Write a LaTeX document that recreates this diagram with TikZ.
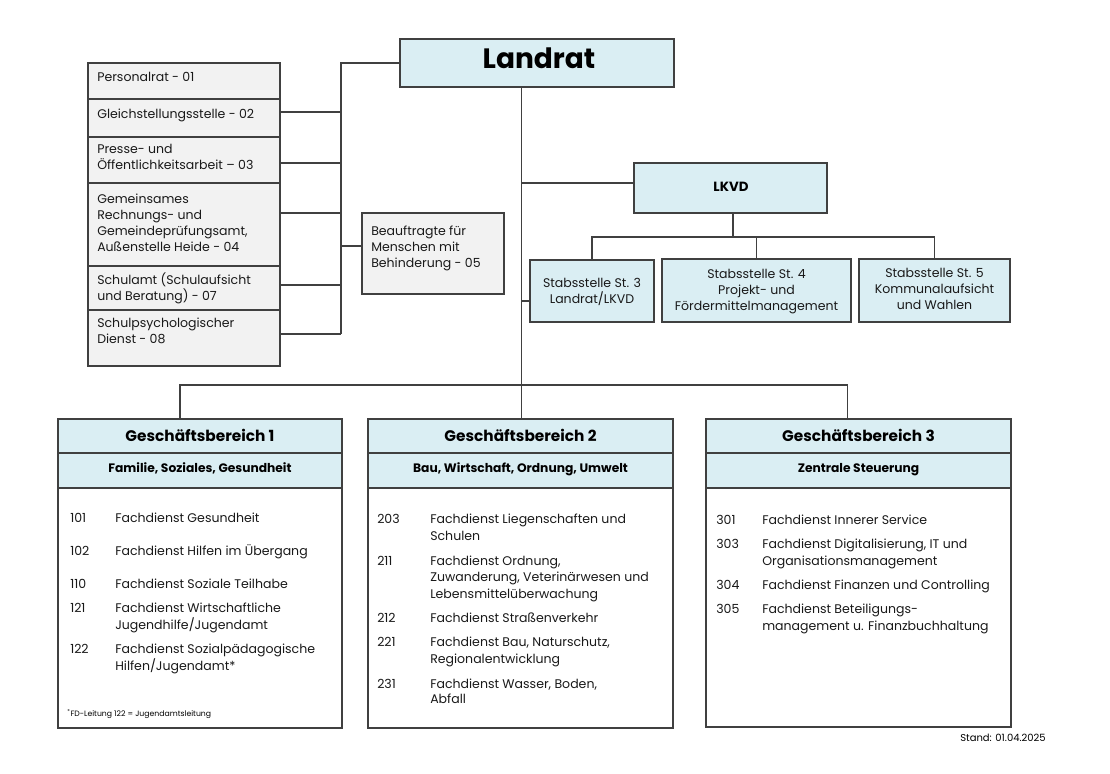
\documentclass[tikz,border=0pt]{standalone}
\usepackage{fontspec}
\setmainfont{Poppins}
\usetikzlibrary{calc}
\definecolor{lblue}{HTML}{DAEEF3}
\definecolor{lgray}{HTML}{F2F2F2}
\definecolor{bord}{HTML}{404040}
\newcommand\bx[6]{\node[#6, minimum width={(#4-#2)*0.75pt}, minimum height={(#5-#3)*0.75pt}] (#1) at ({(#2+#4)/2},{(#3+#5)/2}) {};}
\begin{document}
\begin{tikzpicture}[x=0.75pt,y=-0.75pt,
  box/.style={draw=bord, line width=1.0pt, inner sep=0pt, outer sep=0pt},
  bluebox/.style={box, fill=lblue},
  graybox/.style={box, fill=lgray},
  whitebox/.style={box, fill=white},
  conn/.style={draw=bord, line width=0.8pt},
  t/.style={anchor=west, inner sep=0pt, text height=6.5pt, text depth=1.5pt, font=\fontsize{9.4}{11}\selectfont, text=black!90},
  tc/.style={t, anchor=center},
  hd/.style={anchor=center, inner sep=0pt, text height=8pt, text depth=2pt, font=\fontsize{11.5}{13}\selectfont\bfseries},
  sh/.style={anchor=center, inner sep=0pt, text height=6.5pt, text depth=1.5pt, font=\fontsize{9.2}{11}\selectfont\bfseries},
]
\useasboundingbox[fill=white] (0,0) rectangle (1110,774);

% ---------- Landrat ----------
\node[bluebox, minimum width={(674-400)*0.75pt}, minimum height={(87-39)*0.75pt}] (lr) at (537,63) {};
\node[anchor=center, inner sep=0pt, text height=15pt, text depth=0pt, font=\fontsize{21}{23}\selectfont\bfseries] (lrt) at (539,58.5) {Landrat};

% ---------- left staff column ----------
\bx{pr}{88}{63}{280}{99}{graybox}
\bx{gl}{88}{99}{280}{137}{graybox}
\bx{pe}{88}{137}{280}{183}{graybox}
\bx{ge}{88}{183}{280}{266}{graybox}
\bx{sa}{88}{266}{280}{310}{graybox}
\bx{sp}{88}{310}{280}{366}{graybox}
\bx{bf}{362}{213}{504}{294}{graybox}

\node[t] (prt) at (97,78) {Personalrat - 01};
\node[t] (glt) at (97,115) {Gleichstellungsstelle - 02};
\node[t] (pet1) at (97,150) {Presse- und};
\node[t] (pet2) at (97,166) {Öffentlichkeitsarbeit – 03};
\node[t] (get1) at (97,200) {Gemeinsames};
\node[t] (get2) at (97,216.5) {Rechnungs- und};
\node[t] (get3) at (97,232.5) {Gemeindeprüfungsamt,};
\node[t] (get4) at (97,248.5) {Außenstelle Heide - 04};
\node[t] (sat1) at (97,281) {Schulamt (Schulaufsicht};
\node[t] (sat2) at (97,297) {und Beratung) - 07};
\node[t] (spt1) at (97,324) {Schulpsychologischer};
\node[t] (spt2) at (97,340) {Dienst - 08};
\node[t] (bft1) at (371,232) {Beauftragte für};
\node[t] (bft2) at (371,248) {Menschen mit};
\node[t] (bft3) at (371,264) {Behinderung - 05};

% bracket
\coordinate (brt) at (341,63);
\coordinate (brb) at (341,334);
\draw[conn] (lr.west |- brt) -- (brt) -- (brb);
\coordinate (sgl) at (341,112);
\coordinate (spe) at (341,163);
\coordinate (sge) at (341,213);
\coordinate (ssa) at (341,285);
\coordinate (sbf) at (341,246);
\draw[conn] (gl.east |- sgl) -- (sgl);
\draw[conn] (pe.east |- spe) -- (spe);
\draw[conn] (ge.east |- sge) -- (sge);
\draw[conn] (sa.east |- ssa) -- (ssa);
\draw[conn] (sp.east |- brb) -- (brb);
\draw[conn] (sbf) -- (bf.west |- sbf);

% ---------- LKVD ----------
\bx{lk}{634}{163}{827}{213}{bluebox}
\node[sh, font=\fontsize{10}{12}\selectfont\bfseries] (lkt) at (731,188) {LKVD};
\bx{st3}{530}{260}{654}{322}{bluebox}
\bx{st4}{662}{259}{851}{322}{bluebox}
\bx{st5}{859}{259}{1010}{322}{bluebox}
\node[tc] (st3a) at (592,284) {Stabsstelle St. 3};
\node[tc] (st3b) at (592,300) {Landrat/LKVD};
\node[tc] (st4a) at (756.5,275) {Stabsstelle St. 4};
\node[tc] (st4b) at (756.5,291) {Projekt- und};
\node[tc] (st4c) at (756.5,307) {Fördermittelmanagement};
\node[tc] (st5a) at (934.5,274) {Stabsstelle St. 5};
\node[tc] (st5b) at (934.5,290) {Kommunalaufsicht};
\node[tc] (st5c) at (934.5,306) {und Wahlen};

\coordinate (j) at (521.5,385);
\coordinate (jl) at (521.5,183);
\coordinate (js) at (521.5,301);
\coordinate (sb) at (733,237);
\draw[conn] (jl) -- (lk.west |- jl);
\draw[conn] (js) -- (st3.west |- js);
\draw[conn] (lk.south -| sb) -- (sb);
\draw[conn] (st3.north) -- (st3.north |- sb) -- (st5.north |- sb) -- (st5.north);
\draw[conn] (st4.north) -- (st4.north |- sb);

% ---------- Geschaeftsbereiche ----------
\bx{gb1b}{58}{488}{342}{728}{whitebox}
\bx{gb1h}{58}{419}{342}{453}{bluebox}
\bx{gb1s}{58}{453}{342}{488}{bluebox}
\bx{gb2b}{368}{488}{673}{728}{whitebox}
\bx{gb2h}{368}{419}{673}{453}{bluebox}
\bx{gb2s}{368}{453}{673}{488}{bluebox}
\bx{gb3b}{706}{488}{1011}{727}{whitebox}
\bx{gb3h}{706}{419}{1011}{453}{bluebox}
\bx{gb3s}{706}{453}{1011}{488}{bluebox}

\node[hd] (gb1ht) at (200,437) {Geschäftsbereich 1};
\node[sh] (gb1st) at (200,469.5) {Familie, Soziales, Gesundheit};
\node[hd] (gb2ht) at (520.5,437) {Geschäftsbereich 2};
\node[sh] (gb2st) at (520.5,469.5) {Bau, Wirtschaft, Ordnung, Umwelt};
\node[hd] (gb3ht) at (858.5,437) {Geschäftsbereich 3};
\node[sh] (gb3st) at (858.5,469.5) {Zentrale Steuerung};

\coordinate (c1) at (180,385);
\coordinate (c3) at (847.5,385);
\draw[conn] (lr.south -| j) -- (j) -- (j |- gb2h.north);
\draw[conn] (c1 |- gb1h.north) -- (c1) -- (c3) -- (c3 |- gb3h.north);

% GB1 items
\node[t] (n101) at (70,519) {101};
\node[t] (t101) at (115,519) {Fachdienst Gesundheit};
\node[t] (n102) at (70,552) {102};
\node[t] (t102) at (115,552) {Fachdienst Hilfen im Übergang};
\node[t] (n110) at (70,585) {110};
\node[t] (t110) at (115,585) {Fachdienst Soziale Teilhabe};
\node[t] (n121) at (70,609) {121};
\node[t] (t121a) at (115,609) {Fachdienst Wirtschaftliche};
\node[t] (t121b) at (115,626) {Jugendhilfe/Jugendamt};
\node[t] (n122) at (70,650) {122};
\node[t] (t122a) at (115,650) {Fachdienst Sozialpädagogische};
\node[t] (t122b) at (115,667) {Hilfen/Jugendamt*};
\node[anchor=west, inner sep=0pt, font=\fontsize{5.8}{7}\selectfont] (fn) at (67,714) {\textsuperscript{*}FD-Leitung 122 = Jugendamtsleitung};

% GB2 items
\node[t] (n203) at (377,520) {203};
\node[t] (t203a) at (430,520) {Fachdienst Liegenschaften und};
\node[t] (t203b) at (430,537) {Schulen};
\node[t] (n211) at (377,562) {211};
\node[t] (t211a) at (430,562) {Fachdienst Ordnung,};
\node[t] (t211b) at (430,578) {Zuwanderung, Veterinärwesen und};
\node[t] (t211c) at (430,595) {Lebensmittelüberwachung};
\node[t] (n212) at (377,619) {212};
\node[t] (t212) at (430,619) {Fachdienst Straßenverkehr};
\node[t] (n221) at (377,643) {221};
\node[t] (t221a) at (430,643) {Fachdienst Bau, Naturschutz,};
\node[t] (t221b) at (430,660) {Regionalentwicklung};
\node[t] (n231) at (377,685) {231};
\node[t] (t231a) at (430,685) {Fachdienst Wasser, Boden,};
\node[t] (t231b) at (430,700) {Abfall};

% GB3 items
\node[t] (n301) at (716,521) {301};
\node[t] (t301) at (762,521) {Fachdienst Innerer Service};
\node[t] (n303) at (716,545) {303};
\node[t] (t303a) at (762,545) {Fachdienst Digitalisierung, IT und};
\node[t] (t303b) at (762,562) {Organisationsmanagement};
\node[t] (n304) at (716,586) {304};
\node[t] (t304) at (762,586) {Fachdienst Finanzen und Controlling};
\node[t] (n305) at (716,610) {305};
\node[t] (t305a) at (762,610) {Fachdienst Beteiligungs-};
\node[t] (t305b) at (762,627) {management u. Finanzbuchhaltung};

\node[anchor=east, inner sep=0pt, text height=5pt, text depth=1pt, font=\fontsize{7.5}{8}\selectfont] (stand) at (1046,739) {Stand: 01.04.2025};
\end{tikzpicture}
\end{document}
